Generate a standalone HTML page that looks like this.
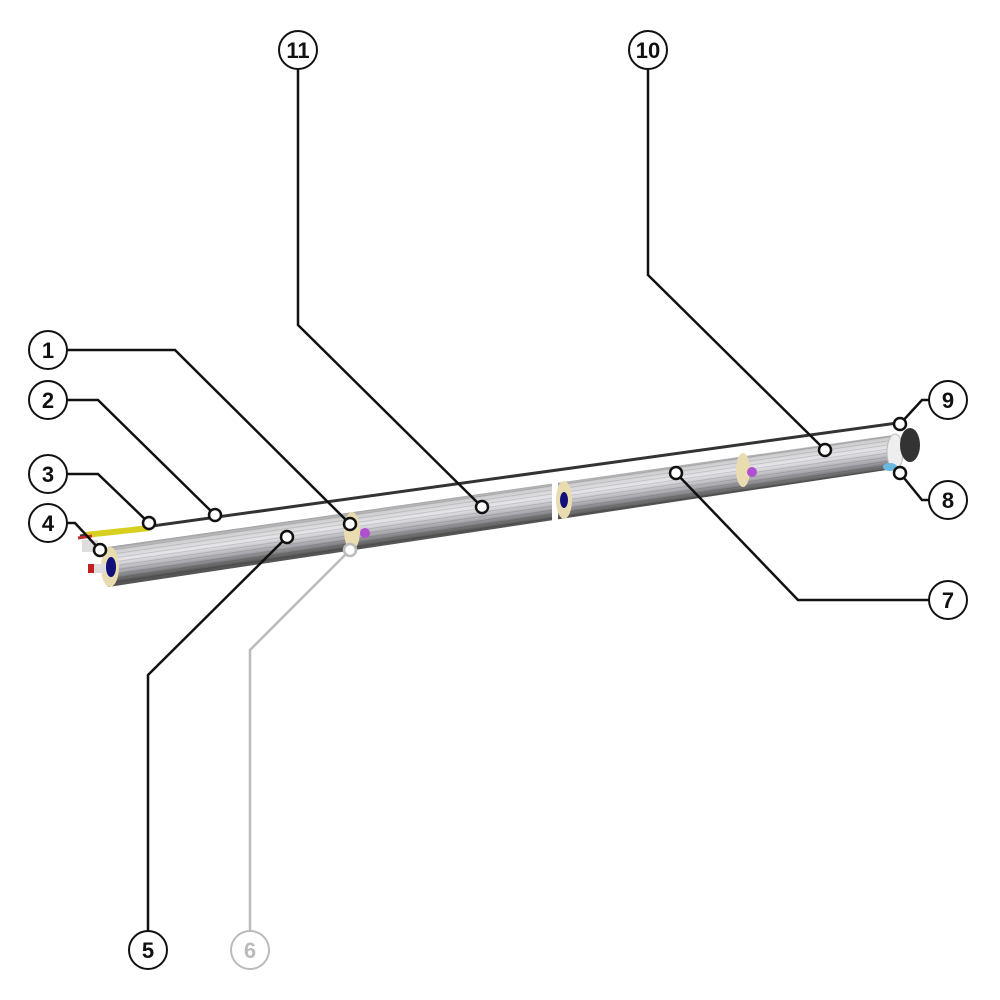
<!DOCTYPE html>
<html><head><style>html,body{margin:0;background:#fff}svg{display:block}</style></head><body>
<svg width="1000" height="1000" viewBox="0 0 1000 1000" xmlns="http://www.w3.org/2000/svg">
<defs>
<linearGradient id="tg" gradientUnits="userSpaceOnUse" x1="500" y1="487" x2="505.5" y2="525">
<stop offset="0" stop-color="#777"/><stop offset="0.2" stop-color="#cfcfd2"/><stop offset="0.45" stop-color="#e6e6ea"/><stop offset="0.75" stop-color="#a8a8ae"/><stop offset="1" stop-color="#555"/>
</linearGradient>
<pattern id="st" width="6" height="4" patternUnits="userSpaceOnUse" patternTransform="rotate(-8.3)">
<rect width="6" height="1" fill="#000" opacity="0.12"/></pattern>
</defs>
<!-- rod -->
<line x1="80" y1="536" x2="897" y2="423" stroke="#333" stroke-width="3"/>
<line x1="85" y1="535" x2="150" y2="528" stroke="#d8d020" stroke-width="6"/>
<line x1="78" y1="538" x2="92" y2="536" stroke="#c03030" stroke-width="3"/>
<!-- tube -->
<g>
<polygon points="108,547 893,435 893,469 108,587" fill="url(#tg)"/>
<polygon points="108,547 893,435 893,469 108,587" fill="url(#st)"/>
<line x1="555" y1="482" x2="555" y2="522" stroke="#fff" stroke-width="6"/>
<ellipse cx="352" cy="531" rx="8" ry="19" fill="#e8dcb0"/>
<circle cx="365" cy="533" r="5" fill="#b050d0"/>
<ellipse cx="564" cy="500" rx="8" ry="19" fill="#e8dcb0"/>
<ellipse cx="564" cy="500" rx="4" ry="8" fill="#10107a"/>
<ellipse cx="743" cy="470" rx="7" ry="17" fill="#e8dcb0"/>
<circle cx="752" cy="472" r="5" fill="#b050d0"/>
<ellipse cx="110" cy="567" rx="9" ry="20" fill="#e8dcb0"/>
<ellipse cx="111" cy="567" rx="5" ry="10" fill="#10107a"/>
<rect x="88" y="564" width="18" height="9" fill="#ddd"/>
<rect x="88" y="564" width="6" height="9" fill="#c02020"/>
<rect x="82" y="540" width="16" height="12" fill="#ddd"/>
<ellipse cx="895" cy="452" rx="8" ry="18" fill="#eee" stroke="#bbb"/>
<ellipse cx="910" cy="445" rx="10" ry="17" fill="#333"/>
<ellipse cx="890" cy="467" rx="7" ry="4" fill="#6bb8e0"/>
</g>
<!-- leaders -->
<g fill="none" stroke="#111" stroke-width="2.5">
<polyline points="67,350 175,350 350,524"/>
<polyline points="67,400 98,400 215,515"/>
<polyline points="67,474 98,474 149,523"/>
<polyline points="67,523 75,523 100,550"/>
<polyline points="148,931 148,675 287,537"/>
<polyline points="929,600 798,600 676,473"/>
<polyline points="929,500 922,500 900,473"/>
<polyline points="929,400 922,400 900,424"/>
<polyline points="648,69 648,275 825,450"/>
<polyline points="298,69 298,325 482,507"/>
</g>
<polyline points="250,931 250,650 350,550" fill="none" stroke="#bbb" stroke-width="2.5"/>
<g fill="#fff" stroke="#111" stroke-width="2.5">
<circle cx="350" cy="524" r="6"/><circle cx="215" cy="515" r="6"/><circle cx="149" cy="523" r="6"/>
<circle cx="100" cy="550" r="6"/><circle cx="287" cy="537" r="6"/><circle cx="676" cy="473" r="6"/>
<circle cx="900" cy="473" r="6"/><circle cx="900" cy="424" r="6"/><circle cx="825" cy="450" r="6"/>
<circle cx="482" cy="507" r="6"/>
</g>
<circle cx="350" cy="550" r="6" fill="#fff" stroke="#bbb" stroke-width="2.5"/>
<g fill="#fff" stroke="#111" stroke-width="2">
<circle cx="48" cy="350" r="19"/><circle cx="48" cy="400" r="19"/><circle cx="48" cy="474" r="19"/>
<circle cx="48" cy="523" r="19"/><circle cx="148" cy="950" r="19"/><circle cx="948" cy="600" r="19"/>
<circle cx="948" cy="500" r="19"/><circle cx="948" cy="400" r="19"/><circle cx="648" cy="50" r="19"/>
<circle cx="298" cy="50" r="19"/>
</g>
<circle cx="250" cy="950" r="19" fill="#fff" stroke="#bbb" stroke-width="2"/>
<g font-family="Liberation Sans, sans-serif" font-weight="bold" font-size="22" text-anchor="middle" fill="#111">
<text x="48" y="358">1</text><text x="48" y="408">2</text><text x="48" y="482">3</text>
<text x="48" y="531">4</text><text x="148" y="958">5</text><text x="948" y="608">7</text>
<text x="948" y="508">8</text><text x="948" y="408">9</text><text x="648" y="58">10</text>
<text x="298" y="58">11</text><text x="250" y="958" fill="#bbb">6</text>
</g>
</svg>
</body></html>
